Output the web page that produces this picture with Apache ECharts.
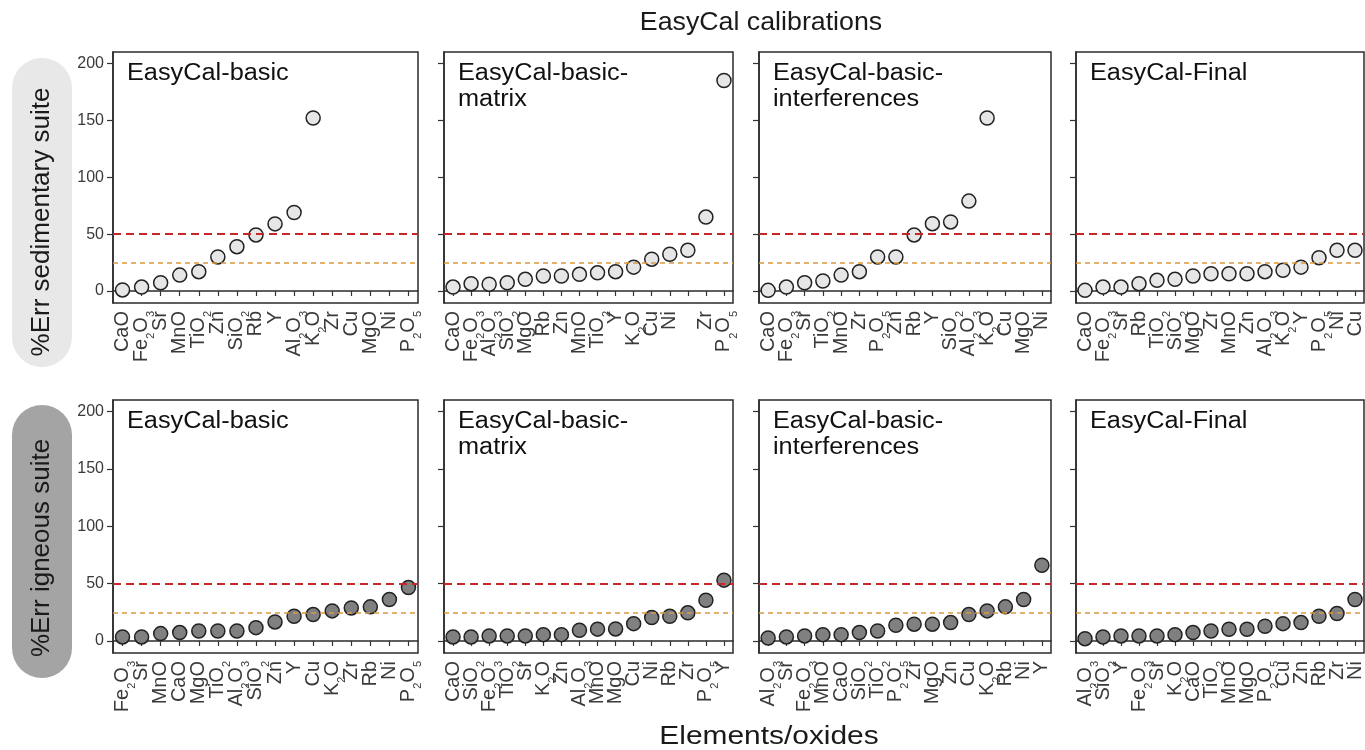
<!DOCTYPE html>
<html><head><meta charset="utf-8">
<script src="https://cdn.jsdelivr.net/npm/echarts@6/dist/echarts.min.js"></script>
<style>html,body{margin:0;padding:0;background:#fff}#c{width:1365px;height:750px}</style>
</head><body><div id="c"></div>
<script>
// ---- data ----
const sedCats1 = ['CaO','Fe2O3','Sr','MnO','TiO2','Zn','SiO2','Rb','Y','Al2O3','K2O','Zr','Cu','MgO','Ni','P2O5'];
const sedVals1 = [1, 3.5, 7.3, 14, 17, 30, 39, 49.3, 59, 69, 152, null, null, null, null, null];
const sedCats2 = ['CaO','Fe2O3','Al2O3','SiO2','MgO','Rb','Zn','MnO','TiO2','Y','K2O','Cu','Ni','Sr','Zr','P2O5'];
const sedVals2 = [3.5, 6.5, 6, 7.3, 10.3, 13.2, 13.2, 14.7, 16, 17, 21, 28, 32.3, 35.8, 65, 185];
const sedCats3 = ['CaO','Fe2O3','Sr','TiO2','MnO','Zr','P2O5','Zn','Rb','Y','SiO2','Al2O3','K2O','Cu','MgO','Ni'];
const sedVals3 = [0.6, 3.5, 7.3, 8.8, 14, 17, 30, 30, 49.3, 59.2, 60.7, 79, 152, null, null, null];
const sedCats4 = ['CaO','Fe2O3','Sr','Rb','TiO2','SiO2','MgO','Zr','MnO','Zn','Al2O3','K2O','Y','P2O5','Ni','Cu'];
const sedVals4 = [0.6, 3.5, 3.5, 6.5, 9.4, 10.3, 13.2, 15.2, 15.2, 15.2, 17, 18.2, 21, 29.3, 35.8, 35.8];

const ignCats1 = ['Fe2O3','Sr','MnO','CaO','MgO','TiO2','Al2O3','SiO2','Zn','Y','Cu','K2O','Zr','Rb','Ni','P2O5'];
const ignVals1 = [3.5, 3.5, 6.4, 7.3, 8.7, 8.7, 8.7, 11.6, 16.6, 21.5, 23, 26.2, 28.8, 29.7, 36.1, 46.6];
const ignCats2 = ['CaO','SiO2','Fe2O3','TiO2','Sr','K2O','Zn','Al2O3','MnO','MgO','Cu','Ni','Rb','Zr','P2O5','Y'];
const ignVals2 = [3.5, 3.5, 4.4, 4.4, 4.4, 5.5, 5.5, 9.3, 10.3, 10.5, 15.1, 20.4, 21.5, 24.5, 35.5, 53];
const ignCats3 = ['Al2O3','Sr','Fe2O3','MnO','CaO','SiO2','TiO2','P2O5','Zr','MgO','Zn','Cu','K2O','Rb','Ni','Y'];
const ignVals3 = [2.6, 3.5, 4.4, 5.5, 5.5, 7.3, 8.7, 13.7, 14.6, 14.6, 16, 23, 26.2, 29.7, 36.1, 66];
const ignCats4 = ['Al2O3','SiO2','Y','Fe2O3','Sr','K2O','CaO','TiO2','MnO','MgO','P2O5','Cu','Zn','Rb','Zr','Ni'];
const ignVals4 = [2, 3.5, 4.4, 4.4, 4.4, 5.5, 7.3, 8.7, 10.2, 10.2, 12.8, 15.1, 16, 21.5, 23.9, 36.1];

const yTicks = [0, 50, 100, 150, 200];
const refLines = [50, 25];
const panelTitles = ['EasyCal-basic', 'EasyCal-basic-\nmatrix', 'EasyCal-basic-\ninterferences', 'EasyCal-Final'];
const rowNames = ['%Err sedimentary suite', '%Err igneous suite'];
const mainTitle = 'EasyCal calibrations';
const xTitle = 'Elements/oxides';
const sed2HiddenLabels = ['Sr'];

// ---- layout / style ----
const FONT = '"Liberation Sans", Arial, Helvetica, sans-serif';
const cols = [{left:113,width:305},{left:444,width:289},{left:759,width:292},{left:1076,width:288}];
const rows = [
  {top:52, height:251, fill:'#e6e6e6', pill:{y:58,h:309,cy:222,color:'#e8e8e8'}},
  {top:400, height:253, fill:'#808080', pill:{y:405,h:273,cy:548,color:'#a4a4a4'}}
];
const panels = [
  {cats:sedCats1, vals:sedVals1, hidden:[]},
  {cats:sedCats2, vals:sedVals2, hidden:sed2HiddenLabels},
  {cats:sedCats3, vals:sedVals3, hidden:[]},
  {cats:sedCats4, vals:sedVals4, hidden:[]},
  {cats:ignCats1, vals:ignVals1, hidden:[]},
  {cats:ignCats2, vals:ignVals2, hidden:[]},
  {cats:ignCats3, vals:ignVals3, hidden:[]},
  {cats:ignCats4, vals:ignVals4, hidden:[]}
];

function labelFmt(hidden) {
  return function (name) {
    if (hidden.indexOf(name) >= 0) return '';
    return name.split(/(\d+)/).filter(s => s).map(s => /^\d+$/.test(s) ? '{s|' + s + '}' : '{m|' + s + '}').join('');
  };
}

const grid = [], xAxis = [], yAxis = [], series = [], graphic = [];
panels.forEach((p, i) => {
  const r = rows[Math.floor(i / 4)], c = cols[i % 4];
  grid.push({left:c.left, top:r.top, width:c.width, height:r.height, show:true,
    borderColor:'#2b2b2b', borderWidth:1.5, backgroundColor:'transparent', containLabel:false, outerBoundsMode:'none'});
  xAxis.push({type:'category', gridIndex:i, data:p.cats, boundaryGap:true,
    axisLine:{show:true, lineStyle:{color:'#2b2b2b', width:1.5}},
    axisTick:{show:true, alignWithLabel:true, interval:0, length:5, lineStyle:{color:'#333', width:1.2}},
    splitLine:{show:false},
    axisLabel:{interval:0, rotate:90, margin:8, color:'#3a3a3a', formatter:labelFmt(p.hidden),
      rich:{
        m:{fontSize:20, lineHeight:30, verticalAlign:'middle', fontFamily:FONT, color:'#3a3a3a'},
        s:{fontSize:11, lineHeight:16, verticalAlign:'bottom', fontFamily:FONT, color:'#3a3a3a'}
      }}
  });
  yAxis.push({type:'value', gridIndex:i, min:-10.5, max:210,
    axisLine:{show:true, lineStyle:{color:'#2b2b2b', width:1.5}},
    axisTick:{show:true, length:6, customValues:yTicks, lineStyle:{color:'#333', width:1.2}},
    splitLine:{show:false},
    axisLabel:{show:(i % 4 === 0), customValues:yTicks, margin:9, fontSize:16, color:'#3a3a3a', fontFamily:FONT}
  });
  series.push({type:'scatter', xAxisIndex:i, yAxisIndex:i, symbol:'circle', symbolSize:14,
    data:p.vals.map(v => v == null ? '-' : v),
    itemStyle:{color:r.fill, borderColor:'#222', borderWidth:1.5, opacity:1},
    emphasis:{disabled:true}, animation:false,
    markLine:{silent:true, symbol:['none','none'], label:{show:false}, animation:false,
      data:[
        {yAxis:refLines[0], lineStyle:{color:'#c62828', width:2, type:[8,5], opacity:1}},
        {yAxis:refLines[1], lineStyle:{color:'#d99a3c', width:1.5, type:[5,4], opacity:1}}
      ]}
  });
  // panel title
  graphic.push({type:'text', x:c.left + 14, y:r.top + 9, scaleX:1.1,
    style:{text:panelTitles[i % 4], fontSize:23, lineHeight:26, fontFamily:FONT, fill:'#111',
      textAlign:'left', textVerticalAlign:'top'}});
});

rows.forEach((r, k) => {
  graphic.push({type:'rect', shape:{x:12, y:r.pill.y, width:60, height:r.pill.h, r:30}, style:{fill:r.pill.color}, z:-1});
  graphic.push({type:'text', x:42, y:r.pill.cy, rotation:Math.PI / 2,
    style:{text:rowNames[k], fontSize:26, fontFamily:FONT, fill:'#1a1a1a', textAlign:'center', textVerticalAlign:'middle'}});
});
graphic.push({type:'text', x:761, y:23, scaleX:1.07,
  style:{text:mainTitle, fontSize:25, fontFamily:FONT, fill:'#1a1a1a', textAlign:'center', textVerticalAlign:'middle'}});
graphic.push({type:'text', x:769, y:737, scaleX:1.15,
  style:{text:xTitle, fontSize:26, fontFamily:FONT, fill:'#1a1a1a', textAlign:'center', textVerticalAlign:'middle'}});

const chart = echarts.init(document.getElementById('c'), null, {renderer:'canvas'});
chart.setOption({animation:false, backgroundColor:'#fff', grid, xAxis, yAxis, series, graphic,
  textStyle:{fontFamily:FONT}});
</script></body></html>
